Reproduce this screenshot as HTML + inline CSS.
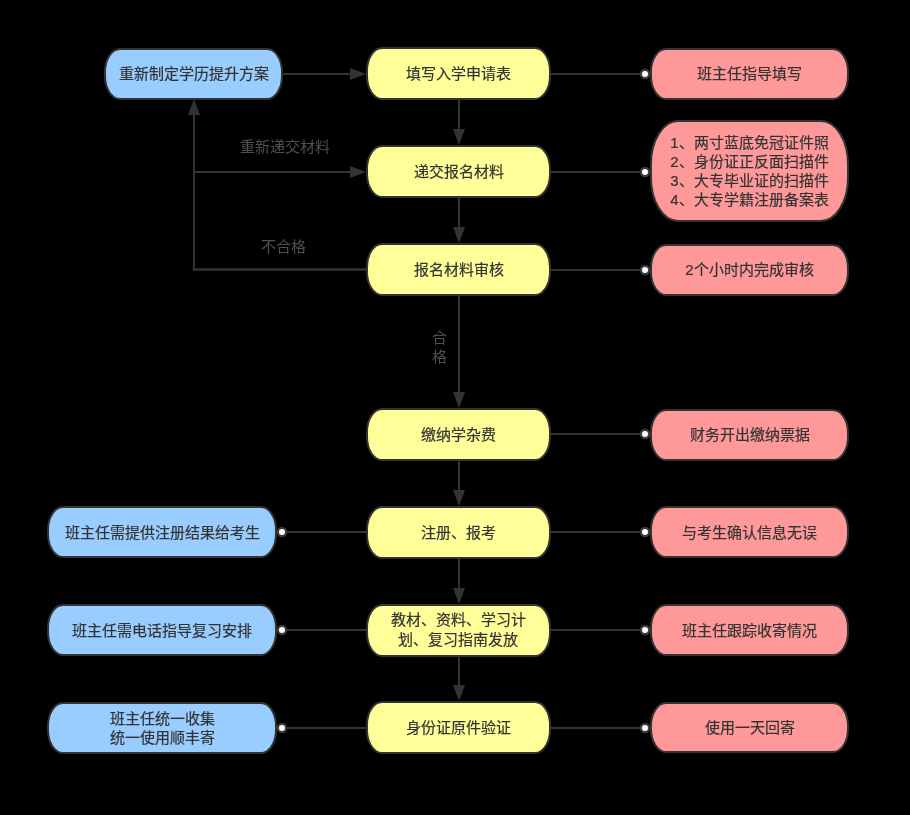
<!DOCTYPE html>
<html lang="zh-CN"><head><meta charset="utf-8"><style>
html,body{margin:0;padding:0;background:#000;width:910px;height:815px;overflow:hidden}
body{position:relative;font-family:"Liberation Sans",sans-serif}
.t{position:absolute;display:flex;align-items:center;justify-content:center;text-align:center;font-size:15px;line-height:19px;color:#333333;-webkit-text-stroke:0.2px #333333}
.l{position:absolute;font-size:15px;color:#505050;line-height:15px;white-space:nowrap}
svg{position:absolute;left:0;top:0}
.t,.l{will-change:transform}
</style></head><body>

<svg width="910" height="815" viewBox="0 0 910 815">
<path d="M459 100L459 135" stroke="#333333" stroke-width="2"/>
<path d="M453 129H465L459 145Z" fill="#333333"/>
<path d="M459 198L459 233" stroke="#333333" stroke-width="2"/>
<path d="M453 227H465L459 243Z" fill="#333333"/>
<path d="M459 296L459 398" stroke="#333333" stroke-width="2"/>
<path d="M453 392H465L459 408Z" fill="#333333"/>
<path d="M459 461L459 496" stroke="#333333" stroke-width="2"/>
<path d="M453 490H465L459 506Z" fill="#333333"/>
<path d="M459 559L459 594" stroke="#333333" stroke-width="2"/>
<path d="M453 588H465L459 604Z" fill="#333333"/>
<path d="M459 657L459 691" stroke="#333333" stroke-width="2"/>
<path d="M453 685H465L459 701Z" fill="#333333"/>
<path d="M551 74L645 74" stroke="#333333" stroke-width="2"/>
<path d="M551 172L645 172" stroke="#333333" stroke-width="2"/>
<path d="M551 270L645 270" stroke="#333333" stroke-width="2"/>
<path d="M551 434L645 434" stroke="#333333" stroke-width="2"/>
<path d="M551 532L645 532" stroke="#333333" stroke-width="2"/>
<path d="M551 630L645 630" stroke="#333333" stroke-width="2"/>
<path d="M551 728L645 728" stroke="#333333" stroke-width="2"/>
<path d="M283 74L355 74" stroke="#333333" stroke-width="2"/>
<path d="M350 68V80L366 74Z" fill="#333333"/>
<path d="M192.75 269.5H366" stroke="#333333" stroke-width="2.5"/>
<path d="M194 270.75L194 110" stroke="#333333" stroke-width="2"/>
<path d="M188 115H200L194 99Z" fill="#333333"/>
<path d="M194 172L355 172" stroke="#333333" stroke-width="2"/>
<path d="M350 166V178L366 172Z" fill="#333333"/>
<path d="M282 532L366 532" stroke="#333333" stroke-width="2"/>
<path d="M282 630L366 630" stroke="#333333" stroke-width="2"/>
<path d="M282 728L366 728" stroke="#333333" stroke-width="2"/>
<rect x="367" y="48" width="183" height="51" rx="15" ry="23" fill="#FFFF99" stroke="#333333" stroke-width="2"/>
<rect x="367" y="146" width="183" height="51" rx="15" ry="23" fill="#FFFF99" stroke="#333333" stroke-width="2"/>
<rect x="367" y="244" width="183" height="51" rx="15" ry="23" fill="#FFFF99" stroke="#333333" stroke-width="2"/>
<rect x="367" y="409" width="183" height="51" rx="15" ry="23" fill="#FFFF99" stroke="#333333" stroke-width="2"/>
<rect x="367" y="507" width="183" height="51" rx="15" ry="23" fill="#FFFF99" stroke="#333333" stroke-width="2"/>
<rect x="367" y="605" width="183" height="51" rx="15" ry="23" fill="#FFFF99" stroke="#333333" stroke-width="2"/>
<rect x="367" y="702" width="183" height="51" rx="15" ry="23" fill="#FFFF99" stroke="#333333" stroke-width="2"/>
<rect x="651" y="49" width="197" height="50" rx="15" ry="23" fill="#FF9999" stroke="#333333" stroke-width="2"/>
<rect x="651" y="121" width="197" height="100" rx="27" ry="43" fill="#FF9999" stroke="#333333" stroke-width="2"/>
<rect x="651" y="245" width="197" height="50" rx="15" ry="23" fill="#FF9999" stroke="#333333" stroke-width="2"/>
<rect x="651" y="410" width="197" height="50" rx="15" ry="23" fill="#FF9999" stroke="#333333" stroke-width="2"/>
<rect x="651" y="507" width="197" height="50" rx="15" ry="23" fill="#FF9999" stroke="#333333" stroke-width="2"/>
<rect x="651" y="605" width="197" height="50" rx="15" ry="23" fill="#FF9999" stroke="#333333" stroke-width="2"/>
<rect x="651" y="703" width="197" height="49" rx="15" ry="23" fill="#FF9999" stroke="#333333" stroke-width="2"/>
<rect x="105" y="49" width="177" height="50" rx="15" ry="23" fill="#99CCFF" stroke="#333333" stroke-width="2"/>
<rect x="48" y="507" width="228" height="50" rx="15" ry="23" fill="#99CCFF" stroke="#333333" stroke-width="2"/>
<rect x="48" y="605" width="228" height="50" rx="15" ry="23" fill="#99CCFF" stroke="#333333" stroke-width="2"/>
<rect x="48" y="703" width="228" height="50" rx="15" ry="23" fill="#99CCFF" stroke="#333333" stroke-width="2"/>
<circle cx="645" cy="74" r="4.1" fill="#fff" stroke="#3c3c3c" stroke-width="2.2"/>
<circle cx="645" cy="172" r="4.1" fill="#fff" stroke="#3c3c3c" stroke-width="2.2"/>
<circle cx="645" cy="270" r="4.1" fill="#fff" stroke="#3c3c3c" stroke-width="2.2"/>
<circle cx="645" cy="434" r="4.1" fill="#fff" stroke="#3c3c3c" stroke-width="2.2"/>
<circle cx="645" cy="532" r="4.1" fill="#fff" stroke="#3c3c3c" stroke-width="2.2"/>
<circle cx="645" cy="630" r="4.1" fill="#fff" stroke="#3c3c3c" stroke-width="2.2"/>
<circle cx="645" cy="728" r="4.1" fill="#fff" stroke="#3c3c3c" stroke-width="2.2"/>
<circle cx="282" cy="532" r="4.1" fill="#fff" stroke="#3c3c3c" stroke-width="2.2"/>
<circle cx="282" cy="630" r="4.1" fill="#fff" stroke="#3c3c3c" stroke-width="2.2"/>
<circle cx="282" cy="728" r="4.1" fill="#fff" stroke="#3c3c3c" stroke-width="2.2"/>
</svg>
<div class="t" style="left:366px;top:47px;width:185px;height:53px">填写入学申请表</div>
<div class="t" style="left:366px;top:145px;width:185px;height:53px">递交报名材料</div>
<div class="t" style="left:366px;top:243px;width:185px;height:53px">报名材料审核</div>
<div class="t" style="left:366px;top:408px;width:185px;height:53px">缴纳学杂费</div>
<div class="t" style="left:366px;top:506px;width:185px;height:53px">注册、报考</div>
<div class="t" style="left:366px;top:604px;width:185px;height:53px"><span style="position:relative;top:-1px;line-height:19.5px">教材、资料、学习计<br><span style="position:relative;left:-1px">划、复习指南发放</span></span></div>
<div class="t" style="left:366px;top:701px;width:185px;height:53px">身份证原件验证</div>
<div class="t" style="left:650px;top:46.5px;width:199px;height:52px">班主任指导填写</div>
<div class="t" style="left:650px;top:119.5px;width:199px;height:102px">1、两寸蓝底免冠证件照<br>2、身份证正反面扫描件<br>3、大专毕业证的扫描件<br>4、大专学籍注册备案表</div>
<div class="t" style="left:650px;top:242.5px;width:199px;height:52px">2个小时内完成审核</div>
<div class="t" style="left:650px;top:407.5px;width:199px;height:52px">财务开出缴纳票据</div>
<div class="t" style="left:650px;top:505.5px;width:199px;height:52px">与考生确认信息无误</div>
<div class="t" style="left:650px;top:603.5px;width:199px;height:52px">班主任跟踪收寄情况</div>
<div class="t" style="left:650px;top:701.5px;width:199px;height:51px">使用一天回寄</div>
<div class="t" style="left:104px;top:46.5px;width:179px;height:52px">重新制定学历提升方案</div>
<div class="t" style="left:47px;top:505.5px;width:230px;height:52px">班主任需提供注册结果给考生</div>
<div class="t" style="left:47px;top:603.5px;width:230px;height:52px">班主任需电话指导复习安排</div>
<div class="t" style="left:47px;top:701.5px;width:230px;height:52px">班主任统一收集<br>统一使用顺丰寄</div>
<div class="l" style="left:240px;top:139px">重新递交材料</div>
<div class="l" style="left:261px;top:239px">不合格</div>
<div class="l" style="left:432px;top:328px;width:15px;line-height:19px;white-space:normal">合格</div>
</body></html>
